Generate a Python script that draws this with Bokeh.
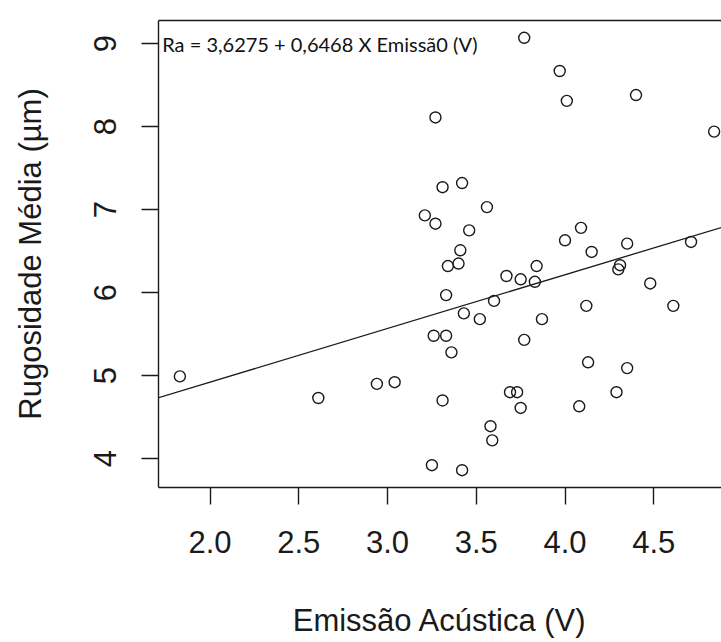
from bokeh.plotting import figure
from bokeh.models import LinearAxis, FixedTicker, Slope, Label, Range1d
from bokeh.embed import file_html
from bokeh.resources import INLINE

# Acoustic emission (V) vs. mean roughness Ra (um)
emissao = [1.83, 2.61, 2.94, 3.04, 3.21, 3.27, 3.56, 3.46, 3.41, 3.34,
           3.40, 3.33, 3.43, 3.52, 3.60, 3.67, 3.75, 3.83, 3.84, 3.87,
           3.77, 3.26, 3.33, 3.36, 3.31, 3.69, 3.73, 3.75, 3.58, 3.59,
           3.25, 3.42, 4.00, 4.09, 4.15, 4.12, 4.13, 4.08, 4.29, 4.35,
           4.35, 4.31, 4.30, 4.48, 4.61, 4.71, 4.84, 4.40, 3.77, 3.97,
           4.01, 3.27, 3.31, 3.42]
rugosidade = [4.99, 4.73, 4.90, 4.92, 6.93, 6.83, 7.03, 6.75, 6.51, 6.32,
              6.35, 5.97, 5.75, 5.68, 5.90, 6.20, 6.16, 6.13, 6.32, 5.68,
              5.43, 5.48, 5.48, 5.28, 4.70, 4.80, 4.80, 4.61, 4.39, 4.22,
              3.92, 3.86, 6.63, 6.78, 6.49, 5.84, 5.16, 4.63, 4.80, 5.09,
              6.59, 6.33, 6.28, 6.11, 5.84, 6.61, 7.94, 8.38, 9.07, 8.67,
              8.31, 8.11, 7.27, 7.32]

# Fitted regression: Ra = a + b * Emissao
intercept = 3.6275
slope = 0.6468
equation = "Ra = 3,6275 + 0,6468 X Emissã0 (V)"

x_ticks = [2.0, 2.5, 3.0, 3.5, 4.0, 4.5]
x_tick_labels = ["2.0", "2.5", "3.0", "3.5", "4.0", "4.5"]
y_ticks = [4, 5, 6, 7, 8, 9]
y_tick_labels = ["4", "5", "6", "7", "8", "9"]

x_title = "Emissão Acústica (V)"
y_title = "Rugosidade Média (µm)"

FONT = "Liberation Sans"
FS = "31px"
INK = "#1a1a1a"

# R-style 4% padding around the data
xpad = 0.04 * (max(emissao) - min(emissao))
ypad = 0.04 * (max(rugosidade) - min(rugosidade))
x_lo, x_hi_full = min(emissao) - xpad, max(emissao) + xpad
y_lo, y_hi = min(rugosidade) - ypad, max(rugosidade) + ypad

W, H = 721, 642
left, top, bottom = 158, 20, 155
full_frame_w = 577          # the plot region runs a little past the page edge
frame_w = W - left
x_hi = x_lo + (x_hi_full - x_lo) * frame_w / full_frame_w

p = figure(width=W, height=H, output_backend="svg", toolbar_location=None,
           x_range=Range1d(x_lo, x_hi), y_range=Range1d(y_lo, y_hi),
           x_axis_location=None, y_axis_location=None,
           min_border_left=left, min_border_right=0,
           min_border_top=top, min_border_bottom=bottom)
p.outline_line_color = None
p.xgrid.grid_line_color = None
p.ygrid.grid_line_color = None
p.background_fill_color = "white"
p.border_fill_color = "white"


def style_axis(ax):
    ax.axis_line_color = INK
    ax.axis_line_width = 1.4
    ax.major_tick_line_color = INK
    ax.major_tick_line_width = 1.4
    ax.major_tick_in = 0
    ax.major_tick_out = 17
    ax.minor_tick_line_color = None
    ax.major_label_text_font = FONT
    ax.major_label_text_font_size = FS
    ax.major_label_text_color = INK
    ax.axis_label_text_font = FONT
    ax.axis_label_text_font_size = FS
    ax.axis_label_text_font_style = "normal"
    ax.axis_label_text_color = INK


xaxis = LinearAxis(ticker=FixedTicker(ticks=x_ticks),
                   major_label_overrides=dict(zip(x_ticks, x_tick_labels)),
                   axis_label=x_title)
style_axis(xaxis)
xaxis.major_label_standoff = 26
xaxis.axis_label_standoff = 47
p.add_layout(xaxis, "below")

yaxis = LinearAxis(ticker=FixedTicker(ticks=y_ticks),
                   major_label_overrides=dict(zip(y_ticks, y_tick_labels)),
                   axis_label=y_title)
style_axis(yaxis)
yaxis.major_label_orientation = "vertical"
yaxis.major_label_standoff = 25
yaxis.axis_label_standoff = 44
p.add_layout(yaxis, "left")

# top edge of the plot box
topaxis = LinearAxis(ticker=FixedTicker(ticks=[]))
topaxis.axis_line_color = INK
topaxis.axis_line_width = 1.4
topaxis.major_tick_line_color = None
topaxis.minor_tick_line_color = None
topaxis.major_label_text_font_size = "0px"
topaxis.major_label_standoff = 0
topaxis.major_tick_out = 0
p.add_layout(topaxis, "above")

# points
p.scatter(emissao, rugosidade, marker="circle", size=11,
          fill_color=None, line_color=INK, line_width=1.4)

# regression line
p.add_layout(Slope(gradient=slope, y_intercept=intercept,
                   line_color=INK, line_width=1.3))

# fitted equation, at the top-left of the plot box
p.add_layout(Label(x=x_lo + 0.021, y=max(y_ticks), text=equation,
                   text_font="Lato", text_font_size="20px",
                   text_color="#111111", text_align="left",
                   text_baseline="middle"))

open("out.html", "w").write(file_html(p, INLINE))
